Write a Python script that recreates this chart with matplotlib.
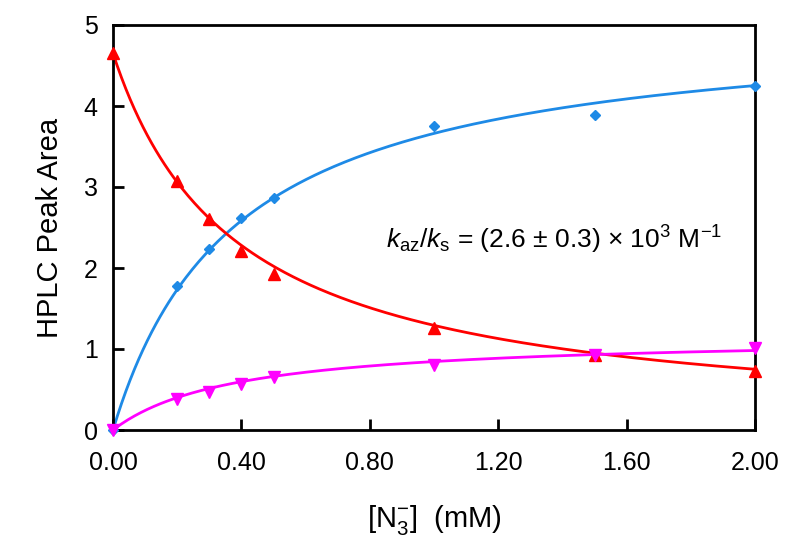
import numpy as np
import matplotlib
matplotlib.use('Agg')
import matplotlib.pyplot as plt

plt.rcParams['font.family'] = ['Liberation Sans', 'DejaVu Sans']
plt.rcParams['mathtext.fontset'] = 'custom'
plt.rcParams['mathtext.rm'] = 'Liberation Sans'
plt.rcParams['mathtext.it'] = 'Liberation Sans:italic'

# Data
conc = [0.0, 0.2, 0.3, 0.4, 0.5, 1.0, 1.5, 2.0]
azide = [0.0, 1.78, 2.23, 2.62, 2.87, 3.75, 3.89, 4.25]
solvent = [4.65, 3.08, 2.60, 2.21, 1.93, 1.26, 0.92, 0.73]
other = [0.0, 0.38, 0.47, 0.57, 0.66, 0.80, 0.92, 1.01]

# Fit parameters (k in mM^-1)
k_fit = 2.6
azide_max = 5.07
solvent_0 = 4.65
other_max = 1.17

blue = '#1E8AE6'
red = '#FF0000'
magenta = '#FF00FF'

xf = np.linspace(0, 2.0, 300)

fig = plt.figure(figsize=(8, 5.55), dpi=100)
ax = fig.add_axes([113/800, 1 - 430/555, (755-113)/800, (430-25)/555])

ax.plot(xf, azide_max * k_fit * xf / (1 + k_fit * xf), color=blue, lw=2)
ax.plot(xf, solvent_0 / (1 + k_fit * xf), color=red, lw=2)
ax.plot(xf, other_max * k_fit * xf / (1 + k_fit * xf), color=magenta, lw=2)

ax.plot(conc, azide, 'D', color=blue, ms=5.5, clip_on=False, zorder=5)
ax.plot(conc, solvent, '^', color=red, ms=8, clip_on=False, zorder=5)
ax.plot(conc, other, 'v', color=magenta, ms=8, clip_on=False, zorder=5)

ax.set_xlim(0, 2.0)
ax.set_ylim(0, 5)
ax.set_xticks([0, 0.4, 0.8, 1.2, 1.6, 2.0])
ax.set_xticklabels(['0.00', '0.40', '0.80', '1.20', '1.60', '2.00'])
ax.set_yticks([0, 1, 2, 3, 4, 5])
ax.tick_params(direction='in', length=8, width=2, labelsize=18)
ax.tick_params(axis='x', pad=15)
ax.tick_params(axis='y', pad=11)
for s in ax.spines.values():
    s.set_linewidth(2)

ax.set_xlabel(r'[N$_3^{\mathregular{-}}$]  (mM)', fontsize=21, labelpad=20)
ax.set_ylabel('HPLC Peak Area', fontsize=21, labelpad=14)

ax.text(0.85, 2.35, r'$k_{\mathregular{az}}/k_{\mathregular{s}}$ = (2.6 ± 0.3) × 10$^{\mathregular{3}}$ M$^{\mathregular{-1}}$',
        fontsize=19, va='center', ha='left')

plt.savefig('out.png', dpi=100)
plt.close()
